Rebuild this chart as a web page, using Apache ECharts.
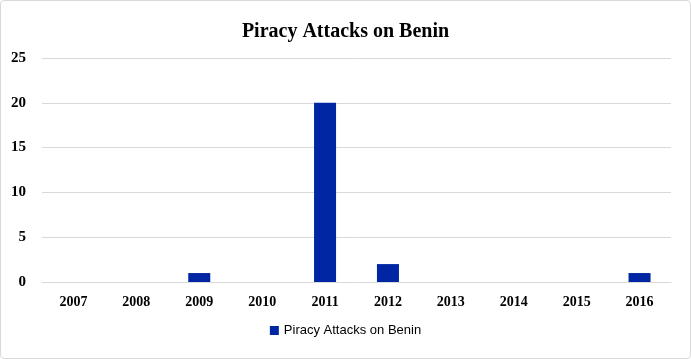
<!DOCTYPE html>
<html>
<head>
<meta charset="utf-8">
<script src="https://cdn.jsdelivr.net/npm/echarts@6/dist/echarts.min.js"></script>
<style>
html,body{margin:0;padding:0;background:#fff;}
#main{position:absolute;left:0;top:0;width:689px;height:357px;border:1px solid #d9d9d9;border-radius:4px;}
</style>
</head>
<body>
<div id="main"></div>
<script>
var years = ['2007','2008','2009','2010','2011','2012','2013','2014','2015','2016'];
var attacks = [0, 0, 1, 0, 20, 2, 0, 0, 0, 1];
var seriesName = 'Piracy Attacks on Benin';

var myChart = echarts.init(document.getElementById('main'));
var option = {
    animation: false,
    title: {
        text: 'Piracy Attacks on Benin',
        left: 'center',
        top: 16,
        textStyle: {
            fontFamily: 'Liberation Serif',
            fontSize: 20,
            fontWeight: 'bold',
            color: '#000'
        }
    },
    legend: {
        bottom: 16,
        left: 'center',
        itemWidth: 9,
        itemHeight: 9,
        icon: 'rect',
        textStyle: {
            fontFamily: 'Liberation Sans',
            fontSize: 13,
            color: '#000'
        },
        data: [seriesName]
    },
    grid: {
        left: 41,
        right: 19,
        top: 57,
        bottom: 76
    },
    xAxis: {
        type: 'category',
        data: years,
        axisTick: {show: false},
        axisLine: {lineStyle: {color: '#d9d9d9'}},
        axisLabel: {
            margin: 13,
            fontFamily: 'Liberation Serif',
            fontSize: 14,
            fontWeight: 'bold',
            color: '#000'
        }
    },
    yAxis: {
        type: 'value',
        min: 0,
        max: 25,
        interval: 5,
        axisLabel: {
            margin: 16,
            fontFamily: 'Liberation Serif',
            fontSize: 15,
            fontWeight: 'bold',
            color: '#000'
        },
        splitLine: {lineStyle: {color: '#d9d9d9'}}
    },
    series: [
        {
            name: seriesName,
            type: 'bar',
            data: attacks,
            barWidth: '35%',
            itemStyle: {
                color: '#0026a3'
            }
        }
    ]
};
myChart.setOption(option);
</script>
</body>
</html>
